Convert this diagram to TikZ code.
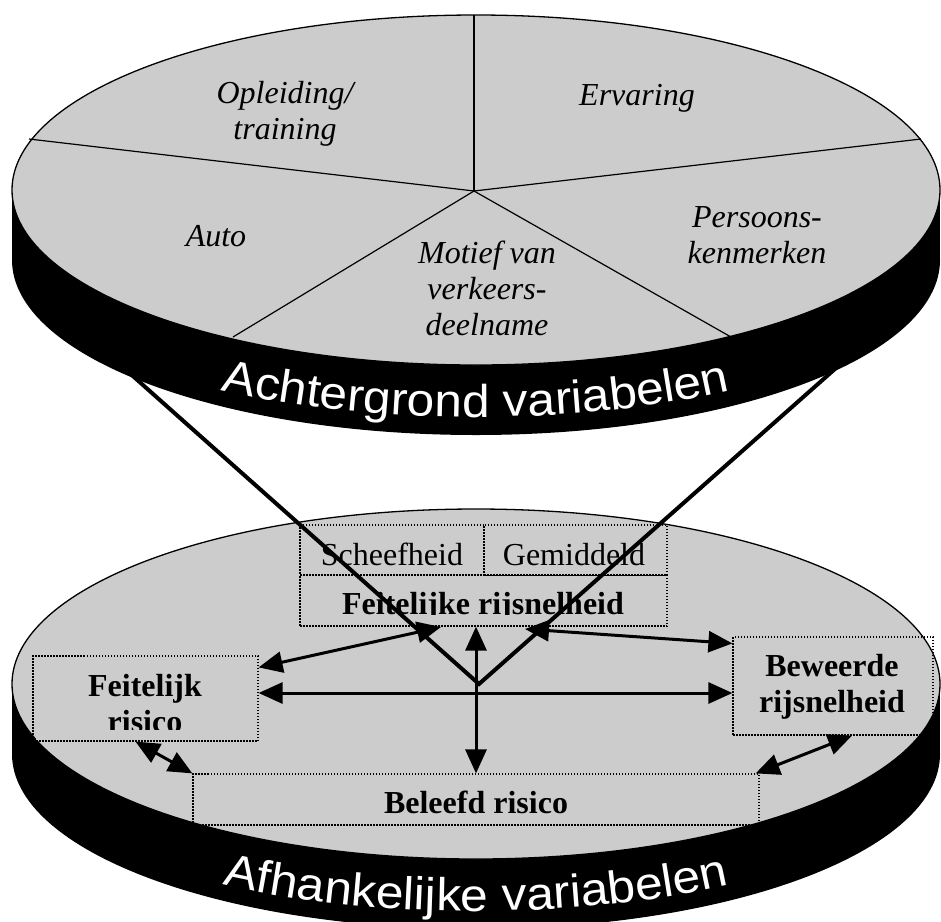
\documentclass[tikz,border=0pt]{standalone}
\usepackage{fontspec}
\setmainfont{Liberation Serif}
\newfontfamily\bandfont[FakeStretch=1.08]{Liberation Sans}
\usetikzlibrary{arrows.meta,decorations.text}
\definecolor{diskgray}{RGB}{204,204,204}

\begin{document}
\begin{tikzpicture}[x=1pt, y=-1pt,
    disk/.style={fill=diskgray, draw=black, line width=1.3pt},
    band/.style={fill=black},
    spoke/.style={line width=1.2pt},
    pielbl/.style={font=\fontsize{32}{36}\selectfont\itshape, align=center, inner sep=0pt},
    plainlbl/.style={font=\fontsize{32}{36}\selectfont, anchor=base, inner sep=0pt},
    boldlbl/.style={font=\fontsize{32}{36}\selectfont\bfseries, align=center, inner sep=0pt},
    varbox/.style={draw, dash pattern=on 1.5pt off 1.5pt, line width=1.2pt, inner sep=0pt},
    mask/.style={fill=diskgray},
    vline/.style={line width=4pt},
    link/.style={line width=3pt, {Triangle[length=24pt,width=21pt]}-{Triangle[length=24pt,width=21pt]}},
    bandtext/.style={decorate, decoration={text along path, text color=white, text align=center,
        text={|\bandfont\fontsize{46}{46}\selectfont|#1}}}]
    \useasboundingbox (0,0) rectangle (941,921);

    % lower disk
    \fill[band] (476,754) ellipse [x radius=464, y radius=175];
    \fill[band] (12,684) rectangle (940,754);
    \draw[disk] (476,684) ellipse [x radius=464, y radius=175];
    \path[bandtext=Afhankelijke variabelen] (43.7,806.4) arc [start angle=160, end angle=20, x radius=460, y radius=159];

    \node(scheeftxt)[plainlbl] at (392,565) {Scheefheid};
    \node(gemidtxt)[plainlbl] at (574,565) {Gemiddeld};
    \node(feitsneltxt)[boldlbl, anchor=base] at (483,614) {Feitelijke rijsnelheid};
    \fill[mask] (303,615) rectangle (664,624.5);
    \node(feitristxt)[boldlbl] at (145,704) {Feitelijk\\risico};
    \fill[mask] (36,730) rectangle (255,739.5);
    \node(beweerdtxt)[boldlbl] at (832,686.5) {Beweerde\\rijsnelheid};
    \node(beleefdtxt)[boldlbl, anchor=base] at (476,813) {Beleefd risico};

    \node(scheef)[varbox, minimum width=184pt, minimum height=50pt] at (392,550) {};
    \node(gemid)[varbox, minimum width=183pt, minimum height=50pt] at (575.5,550) {};
    \node(feitsnel)[varbox, minimum width=367pt, minimum height=51pt] at (483.5,600.5) {};
    \node(feitris)[varbox, minimum width=225pt, minimum height=85pt] at (145.5,698.5) {};
    \node(beweerd)[varbox, minimum width=200pt, minimum height=98pt] at (833,686) {};
    \node(beleefd)[varbox, minimum width=566pt, minimum height=51pt] at (476,799.5) {};
    \draw[line width=1.2pt] (gemid.south west) -- (gemid.south east);

    % V from the upper disk and the links
    \coordinate(vtip) at (479,684);
    \coordinate(vleft) at (98,345);
    \coordinate(vright) at (862,345);
    \coordinate(lhit) at (441,627);
    \coordinate(rhit) at (525,629);
    \coordinate(hmid) at (476,693);
    \draw[vline] (vleft) -- (vtip) -- (vright);
    \draw[link] (feitsnel.south -| beleefd.north) -- (beleefd.north);
    \draw[link] (feitris.east |- hmid) -- (beweerd.west |- hmid);
    \draw[link] ([yshift=-12pt]feitris.north east) -- (lhit);
    \draw[link] (rhit) -- ([yshift=-7pt]beweerd.north west);
    \draw[link] ([xshift=-10pt]feitris.south) -- (beleefd.north west);
    \draw[link] ([xshift=19pt]beweerd.south) -- ([xshift=-4pt]beleefd.north east);

    % upper disk
    \fill[band] (476,260) ellipse [x radius=464, y radius=175];
    \fill[band] (12,190) rectangle (940,260);
    \draw[disk] (476,190) ellipse [x radius=464, y radius=175];
    \coordinate(hub) at (474,191);
    \foreach \px/\py in {474/15, 29/139, 921/139, 233/337, 731/337}
        \draw[spoke] (hub) -- (\px,\py);
    \path[bandtext=Achtergrond variabelen] (43.7,312.4) arc [start angle=160, end angle=20, x radius=460, y radius=159];

    \node(opleid)[pielbl] at (285,113.5) {Opleiding/\\training};
    \node(ervar)[pielbl, anchor=base] at (637,105) {Ervaring};
    \node(auto)[pielbl, anchor=base] at (216,246) {Auto};
    \node(motief)[pielbl] at (487,288) {Motief van\\verkeers-\\deelname};
    \node(persoon)[pielbl] at (757,235) {Persoons-\\kenmerken};
\end{tikzpicture}
\end{document}
